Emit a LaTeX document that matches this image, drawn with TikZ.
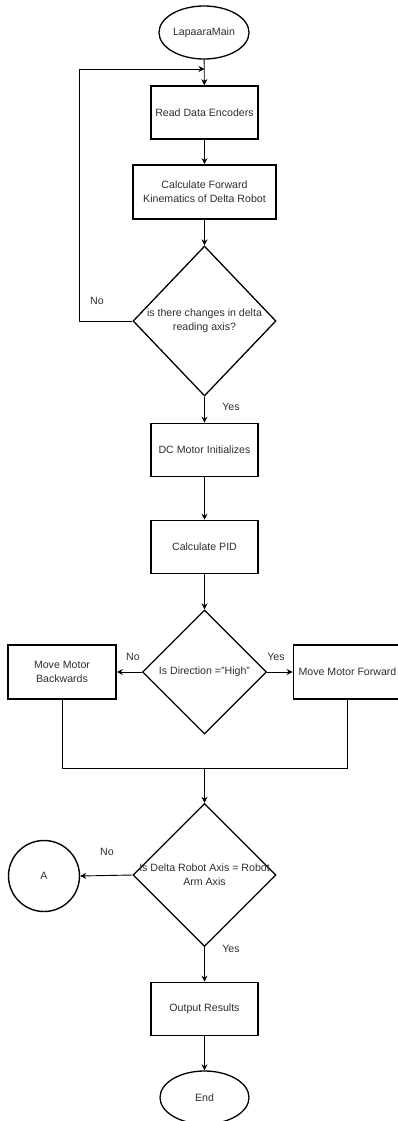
\documentclass[tikz,border=0pt]{standalone}
\usepackage{fontspec}
\setmainfont{Liberation Sans}
\usetikzlibrary{shapes.geometric,arrows.meta}
\begin{document}
\begin{tikzpicture}[x=1pt,y=-1pt,
  txt/.style={font=\fontsize{10.6}{14}\selectfont, text=black!82, align=center, inner sep=0pt},
  procbox/.style={draw, line width=1.7pt, rectangle, minimum width=107pt, minimum height=53pt, txt},
  term/.style={draw, line width=1.3pt, ellipse, minimum width=90pt, minimum height=53pt, txt},
  dec/.style={draw, line width=1.3pt, diamond, inner sep=0pt},
  conn/.style={draw, line width=1.4pt, circle, minimum size=71pt, txt},
  arr/.style={line width=0.9pt, -{Stealth[length=6pt,width=6pt]}},
  ln/.style={line width=0.9pt},
  lbl/.style={txt}
]
\useasboundingbox (0,0) rectangle (397,1121);

% main column
\node[term] (start) at (204,32.5) {LapaaraMain};
\node[procbox] (read) at (204.5,112.5) {Read Data Encoders};
\node[procbox, minimum width=143pt, minimum height=54pt] (fk) at (204.5,192) {Calculate Forward\\Kinematics of Delta Robot};
\node[dec, minimum width=143pt, minimum height=150pt,
  label={[txt]center:is there changes in delta\\reading axis?}] (d1) at (204.5,321) {};
\node[procbox] (dc) at (204.5,450) {DC Motor Initializes};
\node[procbox] (pid) at (204.5,547) {Calculate PID};
\node[dec, minimum width=124pt, minimum height=124pt,
  label={[txt]center:Is Direction ="High"}] (d2) at (204.5,672) {};
\node[procbox, minimum width=108pt, minimum height=54pt] (mb) at (62,672) {Move Motor\\Backwards};
\node[procbox, minimum width=108pt, minimum height=54pt] (mf) at (347.5,672) {Move Motor Forward};
\node[dec, minimum width=143pt, minimum height=143pt,
  label={[txt]center:Is Delta Robot Axis = Robot\\Arm Axis}] (d3) at (204.5,875) {};
\node[conn] (ca) at (44,876) {A};
\node[procbox] (out) at (204.5,1009) {Output Results};
\node[term, minimum width=89pt] (end) at (204.5,1097.5) {End};

% loop-back and merge points
\coordinate (lc) at (79,69);
\coordinate (loopin) at (204.5,69);
\coordinate (mj) at (204.5,768);

% connectors
\draw[arr] (start) -- (read);
\draw[arr] (read) -- (fk);
\draw[arr] (fk) -- (d1.north);
\draw[arr] (d1.west) -| (lc) -- (loopin);
\draw[arr] (d1.south) -- (dc);
\draw[arr] (dc) -- (pid);
\draw[arr] (pid) -- (d2.north);
\draw[arr] (d2.west) -- (mb.east);
\draw[arr] (d2.east) -- (mf.west);
\draw[ln] (mb.south) |- (mj);
\draw[ln] (mf.south) |- (mj);
\draw[arr] (mj) -- (d3.north);
\draw[arr] (d3.west) -- (ca.east);
\draw[arr] (d3.south) -- (out);
\draw[arr] (out) -- (end);

% branch labels
\node[lbl] (n1) at (97,301) {No};
\node[lbl] (y1) at (231,407) {Yes};
\node[lbl] (n2) at (133,657) {No};
\node[lbl] (y2) at (276,657) {Yes};
\node[lbl] (n3) at (107,852) {No};
\node[lbl] (y3) at (231,949) {Yes};
\end{tikzpicture}
\end{document}
